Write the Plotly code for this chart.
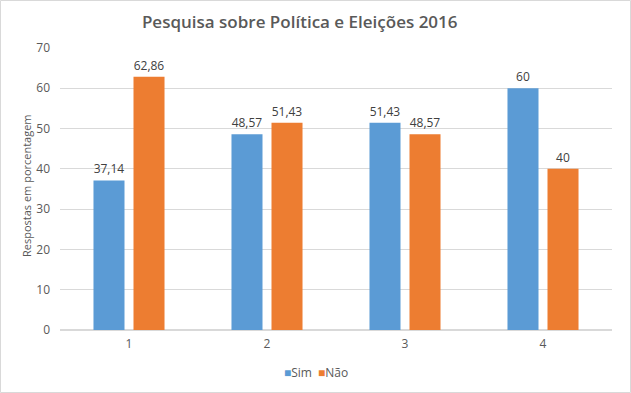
import plotly.graph_objects as go

categories = ["1", "2", "3", "4"]
sim = [37.14, 48.57, 51.43, 60]
nao = [62.86, 51.43, 48.57, 40]
sim_labels = ["37,14", "48,57", "51,43", "60"]
nao_labels = ["62,86", "51,43", "48,57", "40"]
series_names = ["Sim", "Não"]
series_colors = ["#5B9BD5", "#ED7D31"]

W, H = 631, 393
ml, mr, mt, mb = 60, 19, 48, 63
pw, ph = W - ml - mr, H - mt - mb

fig = go.Figure()
for vals, labels, name, color in [(sim, sim_labels, series_names[0], series_colors[0]),
                                  (nao, nao_labels, series_names[1], series_colors[1])]:
    fig.add_trace(go.Bar(x=categories, y=vals, name=name, marker_color=color,
                         marker_line_width=0,
                         text=labels, textposition="outside", cliponaxis=False,
                         textfont=dict(size=12, color="#404040")))

# legend as annotations (compact, Excel-like)
ann = []
leg_y = -(372 - 330) / ph
ann.append(dict(xref="paper", yref="paper", x=(282 - ml) / pw, y=leg_y, xanchor="left", yanchor="middle",
                showarrow=False, text=f"<span style='color:{series_colors[0]}'>■</span>Sim",
                font=dict(size=12, color="#595959")))
ann.append(dict(xref="paper", yref="paper", x=(316 - ml) / pw, y=leg_y, xanchor="left", yanchor="middle",
                showarrow=False, text=f"<span style='color:{series_colors[1]}'>■</span>Não",
                font=dict(size=12, color="#595959")))
ann.append(dict(xref="paper", yref="paper", x=(27 - ml) / pw, y=1 - (186 - mt) / ph, xanchor="center",
                yanchor="middle", showarrow=False, textangle=-90, text="Respostas em porcentagem",
                font=dict(size=11, color="#595959")))

fig.update_layout(
    width=W, height=H,
    margin=dict(l=ml, r=mr, t=mt, b=mb, autoexpand=False),
    paper_bgcolor="white", plot_bgcolor="white",
    font=dict(family="Open Sans, sans-serif", color="#595959", size=12),
    title=dict(text="Pesquisa sobre Política e Eleições 2016", x=0.475, xanchor="center",
               y=1 - 22 / H, yanchor="middle",
               font=dict(size=17, color="#595959", family="Open Sans, sans-serif", weight=600)),
    barmode="group", bargap=0.42, bargroupgap=0.225,
    showlegend=False,
    annotations=ann,
    xaxis=dict(showgrid=False, showline=False, ticks="", tickfont=dict(size=12), automargin=False,
               ticklabelstandoff=5),
    yaxis=dict(range=[0, 70], dtick=10, showgrid=True, gridcolor="#D9D9D9", gridwidth=1,
               zeroline=True, zerolinecolor="#D9D9D9", showline=False, ticks="",
               tickfont=dict(size=12), automargin=False, ticklabelstandoff=9),
    shapes=[dict(type="rect", xref="paper", yref="paper",
                 x0=(-ml + 0.5) / pw, x1=1 + (mr - 0.5) / pw,
                 y0=(-mb + 0.5) / ph, y1=1 + (mt - 0.5) / ph,
                 line=dict(color="#D9D9D9", width=1), layer="below")],
)

fig.write_html("out.html", config={"displayModeBar": False},
               post_script="document.body.style.margin='0';document.body.style.overflow='hidden';")
